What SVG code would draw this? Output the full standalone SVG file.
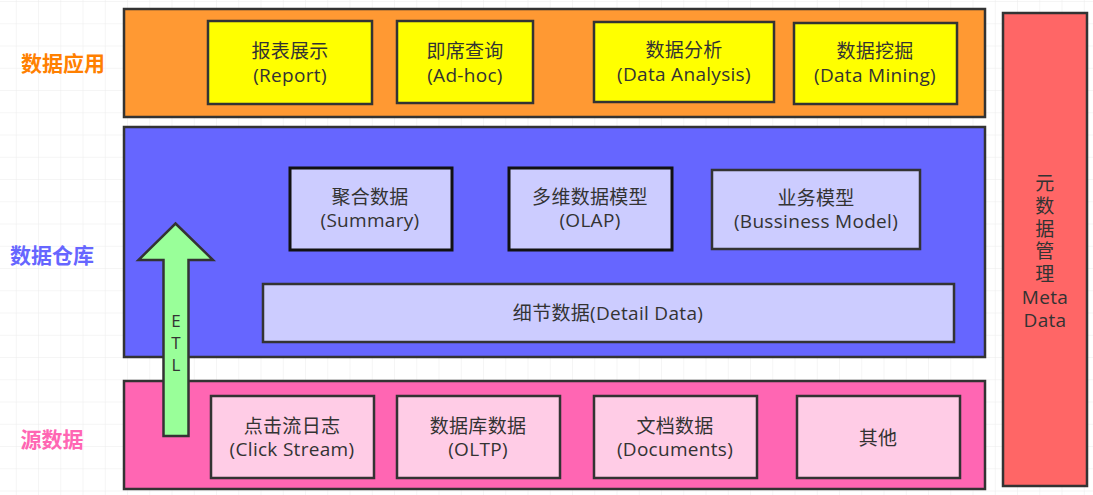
<svg xmlns="http://www.w3.org/2000/svg" width="1093" height="495" viewBox="0 0 1093 495">
<defs>
<pattern id="grid" x="-5.5" y="2" width="22.25" height="22.25" patternUnits="userSpaceOnUse">
<path d="M22.25 0V22.25M0 22.25H22.25" fill="none" stroke="#ebebeb" stroke-width="1"/>
</pattern>
<style>
.layer{stroke:#333;stroke-width:2.5}
.box{stroke:#333;stroke-width:2.5}
.dark{stroke:#111;stroke-width:3}
.t{font-family:"Open Sans","Noto Sans CJK SC",sans-serif;font-size:19px;letter-spacing:0.3px;fill:#333;text-anchor:middle;dominant-baseline:central}
.lbl{font-family:"Noto Sans CJK SC",sans-serif;font-size:21px;font-weight:bold;text-anchor:middle;dominant-baseline:central}
</style>
</defs>
<rect width="1093" height="495" fill="#fff"/>
<rect width="1093" height="495" fill="url(#grid)"/>

<g id="label-app"><text class="lbl" x="63" y="62" fill="#FF8000">数据应用</text></g>
<g id="label-dw"><text class="lbl" x="52" y="254" fill="#6666FF">数据仓库</text></g>
<g id="label-src"><text class="lbl" x="52" y="438" fill="#FF66B3">源数据</text></g>

<g id="layer-app"><rect class="layer" x="124" y="9" width="861" height="108" fill="#FF9933"/></g>
<g id="layer-dw"><rect class="layer" x="124" y="127" width="861" height="230" fill="#6666FF"/></g>
<g id="layer-src"><rect class="layer" x="124" y="381" width="861" height="108" fill="#FF66B3"/></g>

<g id="meta"><rect class="layer" x="1003" y="13" width="84" height="473" fill="#FF6666"/>
<text class="t" x="1045" y="183">元</text>
<text class="t" x="1045" y="206">数</text>
<text class="t" x="1045" y="229">据</text>
<text class="t" x="1045" y="251">管</text>
<text class="t" x="1045" y="274">理</text>
<text class="t" x="1045" y="297">Meta</text>
<text class="t" x="1045" y="320">Data</text>
</g>

<g id="report"><rect class="box" x="208" y="21" width="164" height="83" fill="#FFFF00"/>
<text class="t" x="290" y="51">报表展示</text><text class="t" x="290" y="75">(Report)</text></g>
<g id="adhoc"><rect class="box" x="397" y="21" width="136" height="82" fill="#FFFF00"/>
<text class="t" x="465" y="51">即席查询</text><text class="t" x="465" y="75">(Ad-hoc)</text></g>
<g id="analysis"><rect class="box" x="594" y="22" width="180" height="80" fill="#FFFF00"/>
<text class="t" x="684" y="50">数据分析</text><text class="t" x="684" y="74">(Data Analysis)</text></g>
<g id="mining"><rect class="box" x="794" y="23" width="163" height="81" fill="#FFFF00"/>
<text class="t" x="875" y="51">数据挖掘</text><text class="t" x="875" y="75">(Data Mining)</text></g>

<g id="summary"><rect class="dark" x="290" y="168" width="162" height="82" fill="#CCCCFF"/>
<text class="t" x="370" y="197">聚合数据</text><text class="t" x="370" y="220">(Summary)</text></g>
<g id="olap"><rect class="dark" x="509" y="168" width="163" height="82" fill="#CCCCFF"/>
<text class="t" x="590" y="197">多维数据模型</text><text class="t" x="590" y="220">(OLAP)</text></g>
<g id="business"><rect class="box" x="712" y="170" width="208" height="79" fill="#CCCCFF"/>
<text class="t" x="816" y="198">业务模型</text><text class="t" x="816" y="221">(Bussiness Model)</text></g>
<g id="detail"><rect class="box" x="263" y="284" width="691" height="58" fill="#CCCCFF"/>
<text class="t" x="608" y="313">细节数据(Detail Data)</text></g>

<g id="click"><rect class="box" x="211" y="396" width="163" height="82" fill="#FFCCE6"/>
<text class="t" x="292" y="426">点击流日志</text><text class="t" x="292" y="449">(Click Stream)</text></g>
<g id="oltp"><rect class="box" x="397" y="396" width="163" height="82" fill="#FFCCE6"/>
<text class="t" x="478" y="426">数据库数据</text><text class="t" x="478" y="449">(OLTP)</text></g>
<g id="documents"><rect class="box" x="594" y="396" width="163" height="82" fill="#FFCCE6"/>
<text class="t" x="675" y="426">文档数据</text><text class="t" x="675" y="449">(Documents)</text></g>
<g id="other"><rect class="box" x="797" y="396" width="163" height="82" fill="#FFCCE6"/>
<text class="t" x="878" y="438">其他</text></g>

<g id="connectors">
<path d="M175.5 223.5L213 260H188.5V436H163.5V260H138.5Z" fill="#99FF99" stroke="#333" stroke-width="2.5" stroke-linejoin="miter"/>
<text class="t" x="176" y="320" style="font-size:17px">E</text>
<text class="t" x="176" y="342" style="font-size:17px">T</text>
<text class="t" x="176" y="364" style="font-size:17px">L</text>
</g>
</svg>
